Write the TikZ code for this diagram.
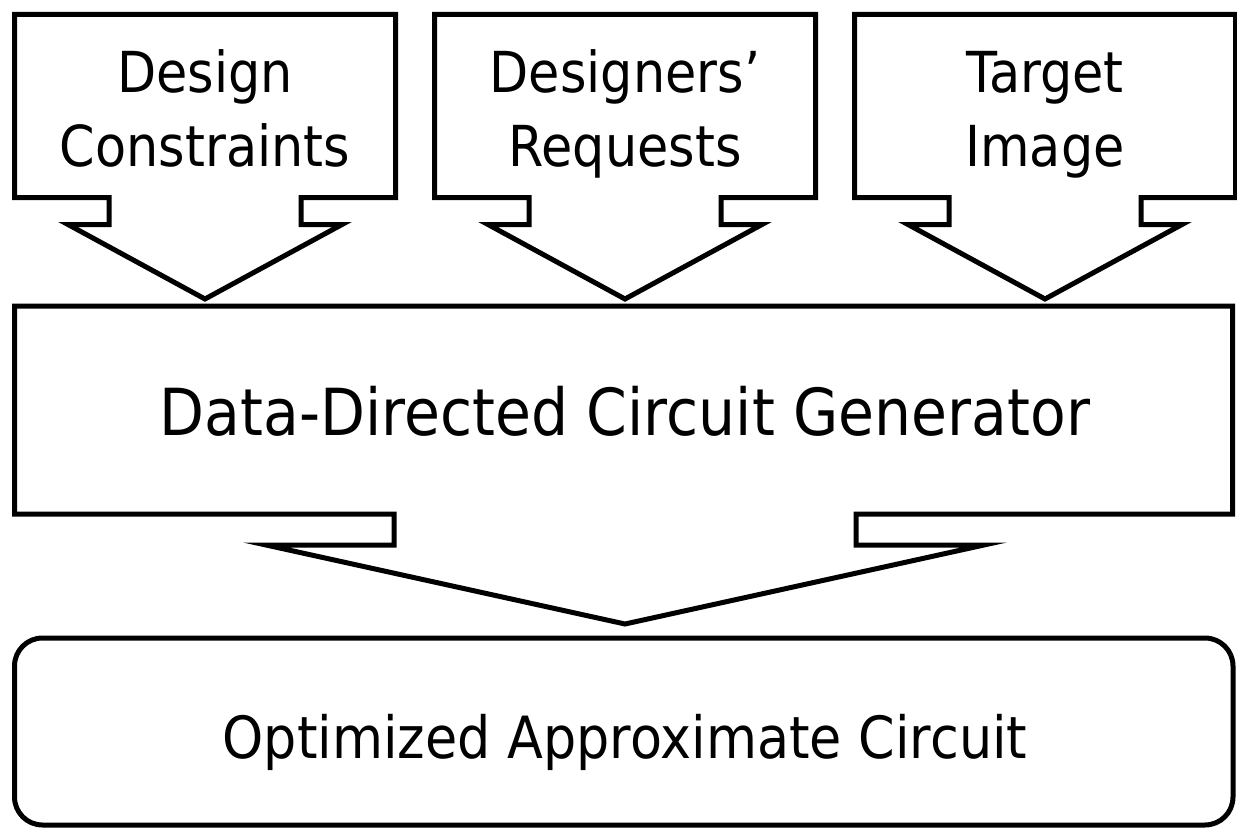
\documentclass[tikz,border=0pt]{standalone}
\usepackage{fontspec}
\newfontfamily\diafont{DejaVu Sans}[FakeStretch=0.9]
\begin{document}
\begin{tikzpicture}[x=0.5pt,y=-0.5pt]
\tikzset{
  shapeline/.style={draw=black, line width=2.5pt, line join=miter, fill=white},
  smalltxt/.style={font=\diafont\fontsize{28.25}{37}\selectfont, align=center, inner sep=0pt},
  bigtxt/.style={font=\diafont\fontsize{32.45}{40}\selectfont, inner sep=0pt},
  outtxt/.style={font=\diafont\fontsize{29.1}{36}\selectfont, inner sep=0pt},
  inarrow/.pic={
    \draw[shapeline] (-190.5,14.5) -- (190.5,14.5) -- (190.5,197.5) -- (96,197.5)
      -- (96,224.5) -- (137,224.5) -- (0,299) -- (-137,224.5) -- (-96,224.5)
      -- (-96,197.5) -- (-190.5,197.5) -- cycle;
  }
}
\useasboundingbox (0,0) rectangle (1237,829);
% input callouts
\pic at (205,0) {inarrow};
\pic at (625,0) {inarrow};
\pic at (1045,0) {inarrow};
% generator callout
\draw[shapeline] (14.5,306) -- (1232.5,306) -- (1232.5,514) -- (856,514) -- (856,545)
  -- (984,545) -- (625,624) -- (266,545) -- (394,545) -- (394,514) -- (14.5,514) -- cycle;
% output box
\draw[shapeline, rounded corners=14pt] (14.5,638) rectangle (1233,825);
% texts
\node[smalltxt] (dc) at (205,115) {\strut Design\\Constraints\strut};
\node[smalltxt] (dr) at (625,115) {\strut Designers’\\Requests\strut};
\node[smalltxt] (ti) at (1045,115) {\strut Target\\Image\strut};
\node[bigtxt, anchor=base] (gen) at (625,435) {Data-Directed Circuit Generator};
\node[outtxt, anchor=base] (out) at (625,758) {Optimized Approximate Circuit};
\end{tikzpicture}
\end{document}
